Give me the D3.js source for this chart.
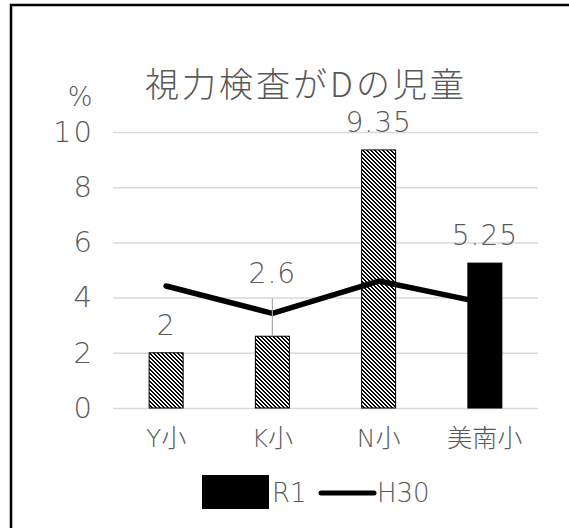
<!DOCTYPE html>
<html>
<head>
<meta charset="utf-8">
<script src="https://cdn.jsdelivr.net/npm/d3@7.9.0/dist/d3.min.js"></script>
<style>
  html, body { margin: 0; padding: 0; background: #fff; }
  svg { display: block; }
  text { fill: #595959; font-family: "DejaVu Sans", "Noto Sans CJK JP", sans-serif; }
</style>
</head>
<body>
<div id="chart"></div>
<script>
// chart values
const title = '視力検査がDの児童';
const unitLabel = '%';
const schools = ['Y小', 'K小', 'N小', '美南小'];
const r1Values = [2, 2.6, 9.35, 5.25];
const h30Values = [4.42, 3.43, 4.6, 3.8];
const yTicks = [0, 2, 4, 6, 8, 10];
const seriesNames = ['R1', 'H30'];

const width = 569;
const height = 528;

const plot = { left: 113, right: 538, top: 132, bottom: 408 };

const svg = d3.select('#chart')
  .append('svg')
  .attr('width', width)
  .attr('height', height);

// striped fill for the R1 bars (pixel pattern, "\" direction)
const defs = svg.append('defs');
const stripe = defs.append('pattern')
  .attr('id', 'stripe')
  .attr('patternUnits', 'userSpaceOnUse')
  .attr('width', 4)
  .attr('height', 4);
stripe.append('rect').attr('width', 4).attr('height', 4).attr('fill', '#fff');
for (let r = 0; r < 4; r++) {
  [r, (r + 1) % 4].forEach(c => {
    stripe.append('rect')
      .attr('x', c).attr('y', r)
      .attr('width', 1).attr('height', 1)
      .attr('fill', '#000')
      .attr('shape-rendering', 'crispEdges');
  });
}

// chart frame
svg.append('rect')
  .attr('x', 11).attr('y', 5)
  .attr('width', 700).attr('height', 700)
  .attr('fill', 'none')
  .attr('stroke', '#000')
  .attr('stroke-width', 2.5);

const x = d3.scalePoint()
  .domain(schools)
  .range([plot.left, plot.right])
  .padding(0.5);

const y = d3.scaleLinear()
  .domain([0, 10])
  .range([plot.bottom, plot.top]);

const barWidth = x.step() * 0.32;

// gridlines
svg.append('g')
  .attr('class', 'grid')
  .attr('transform', `translate(${plot.left},0)`)
  .call(d3.axisLeft(y).tickValues(yTicks).tickFormat('').tickSize(-(plot.right - plot.left)))
  .call(g => g.select('.domain').remove())
  .call(g => g.selectAll('line').attr('stroke', '#d9d9d9').attr('stroke-width', 1.5));

// y tick labels
svg.append('g')
  .attr('transform', `translate(94,0)`)
  .call(d3.axisLeft(y).tickValues(yTicks).tickSize(0).tickPadding(0))
  .call(g => g.select('.domain').remove())
  .call(g => g.selectAll('text')
    .attr('fill', '#595959')
    .style('font-family', '"DejaVu Sans", sans-serif')
    .style('font-weight', 200)
    .style('letter-spacing', '2px')
    .style('font-size', '29px'));

svg.append('text')
  .attr('x', 80).attr('y', 106)
  .attr('text-anchor', 'middle')
  .style('font-size', '26px')
  .style('font-weight', 200)
  .text(unitLabel);

// title
svg.append('text')
  .attr('x', 306).attr('y', 97)
  .attr('text-anchor', 'middle')
  .style('font-family', '"Noto Sans CJK JP", sans-serif')
  .style('font-size', '34px')
  .style('font-weight', 300)
  .style('letter-spacing', '3px')
  .text(title);

// R1 bars
svg.append('g')
  .selectAll('rect')
  .data(r1Values)
  .join('rect')
  .attr('x', (d, i) => x(schools[i]) - barWidth / 2)
  .attr('y', d => y(d))
  .attr('width', barWidth)
  .attr('height', d => y(0) - y(d))
  .attr('fill', (d, i) => schools[i] === '美南小' ? '#000' : 'url(#stripe)')
  .attr('stroke', '#000')
  .attr('stroke-width', 1);

// H30 line
const line = d3.line()
  .x((d, i) => x(schools[i]))
  .y(d => y(d));

svg.append('path')
  .datum(h30Values)
  .attr('d', line)
  .attr('fill', 'none')
  .attr('stroke', '#000')
  .attr('stroke-width', 5.5)
  .attr('stroke-linejoin', 'round')
  .attr('stroke-linecap', 'round');

// data labels (K小 label was pulled up with a leader line)
const lift = i => schools[i] === 'K小' ? 53 : 18;

svg.append('line')
  .attr('x1', x('K小')).attr('x2', x('K小'))
  .attr('y1', y(2.6) - 38).attr('y2', y(2.6))
  .attr('stroke', '#a6a6a6')
  .attr('stroke-width', 1.2);

svg.append('g')
  .selectAll('text')
  .data(r1Values)
  .join('text')
  .attr('x', (d, i) => x(schools[i]))
  .attr('y', (d, i) => y(d) - lift(i))
  .attr('text-anchor', 'middle')
  .style('font-size', '28px')
  .style('font-weight', 200)
  .style('letter-spacing', '1px')
  .text(d => d);

// category labels
svg.append('g')
  .selectAll('text')
  .data(schools)
  .join('text')
  .attr('x', d => x(d))
  .attr('y', 447)
  .attr('text-anchor', 'middle')
  .style('font-size', '25px')
  .style('font-weight', 300)
  .text(d => d);

// legend
const legend = svg.append('g');
legend.append('rect')
  .attr('x', 202).attr('y', 475)
  .attr('width', 67).attr('height', 34)
  .attr('fill', '#000');
legend.append('text')
  .attr('x', 272).attr('y', 502)
  .style('font-size', '26px')
  .style('font-weight', 200)
  .text(seriesNames[0]);
legend.append('line')
  .attr('x1', 321).attr('x2', 374)
  .attr('y1', 493).attr('y2', 493)
  .attr('stroke', '#000')
  .attr('stroke-width', 5)
  .attr('stroke-linecap', 'round');
legend.append('text')
  .attr('x', 377).attr('y', 502)
  .style('font-size', '26px')
  .style('font-weight', 200)
  .text(seriesNames[1]);
</script>
</body>
</html>
